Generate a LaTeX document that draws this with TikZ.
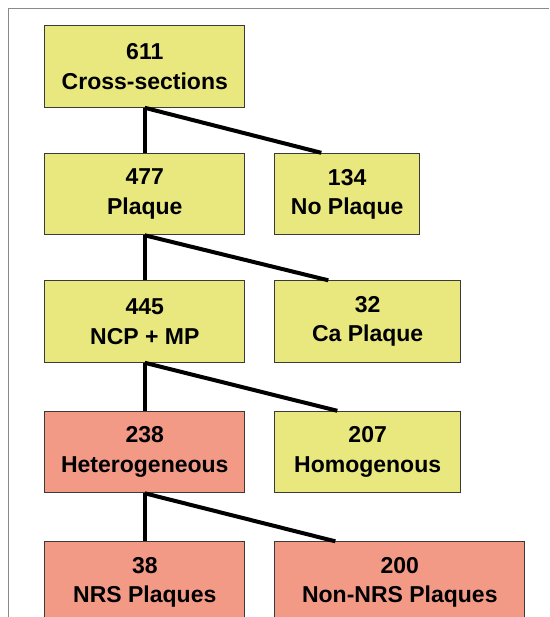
\documentclass[tikz,border=0pt]{standalone}
\usepackage{fontspec}
\setmainfont{Liberation Sans}
\usepackage{xcolor}
\usetikzlibrary{positioning}
\definecolor{framegrey}{HTML}{8A8A8A}
\definecolor{boxline}{HTML}{3A3A3A}
\definecolor{pastelyellow}{HTML}{E8E87F}
\definecolor{salmon}{HTML}{F39A87}

\begin{document}
\begin{tikzpicture}[x=1pt,y=1pt,font=\fontsize{23}{29.3}\selectfont\bfseries,node distance=45pt and 29pt,
  yellowbox/.style={draw=boxline,line width=1pt,fill=pastelyellow,minimum height=81.5pt,align=center,inner sep=0pt},
  redbox/.style={yellowbox,fill=salmon},
  branch/.style={line width=4pt,color=black}]
\useasboundingbox (0,0) rectangle (549,-617);
\draw[framegrey,line width=1.5pt] (8.3,-617) -- (8.3,-8.7) -- (549,-8.7);
\node[yellowbox,minimum width=200pt,anchor=north west] (sections) at (44.3,-25.3) {611\\Cross-sections};
\node[yellowbox,minimum width=200pt,below=of sections] (plaque) {477\\Plaque};
\node[yellowbox,minimum width=144.7pt,right=of plaque] (noplaque) {134\\No Plaque};
\node[yellowbox,minimum width=200pt,below=of plaque] (ncpmp) {445\\NCP + MP};
\node[yellowbox,minimum width=185.7pt,right=of ncpmp] (caplaque) {32\\Ca Plaque};
\node[redbox,minimum width=200pt,below=48pt of ncpmp] (hetero) {238\\Heterogeneous};
\node[yellowbox,minimum width=185.7pt,right=of hetero] (homo) {207\\Homogenous};
\node[redbox,minimum width=200pt,below=48pt of hetero] (nrs) {38\\NRS Plaques};
\node[redbox,minimum width=250pt,right=of nrs] (nonnrs) {200\\Non-NRS Plaques};
\draw[branch] (sections.south) -- (plaque.north);
\draw[branch] (sections.south) -- ([xshift=47pt]noplaque.north west);
\draw[branch] (plaque.south) -- (ncpmp.north);
\draw[branch] (plaque.south) -- ([xshift=54pt]caplaque.north west);
\draw[branch] (ncpmp.south) -- (hetero.north);
\draw[branch] (ncpmp.south) -- ([xshift=63pt]homo.north west);
\draw[branch] (hetero.south) -- (nrs.north);
\draw[branch] (hetero.south) -- ([xshift=61pt]nonnrs.north west);
\end{tikzpicture}
\end{document}
